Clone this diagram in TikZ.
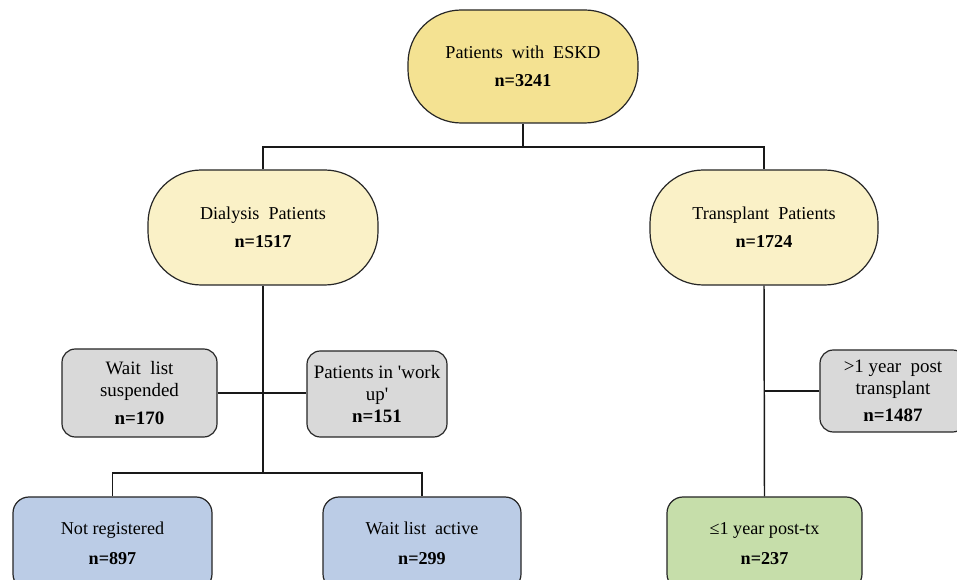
\documentclass[tikz,border=0pt]{standalone}
\usepackage{fontspec}
\setmainfont{Liberation Serif}
\definecolor{topY}{RGB}{244,226,146}
\definecolor{midY}{RGB}{250,241,199}
\definecolor{greyB}{RGB}{217,217,217}
\definecolor{blueB}{RGB}{187,204,230}
\definecolor{greenB}{RGB}{198,222,170}
\tikzset{
  box/.style={draw=black!85, line width=0.9pt, align=center, inner sep=0pt},
  stadium/.style={box, rounded corners=40pt, font=\fontsize{13.6}{21}\selectfont},
  smallbox/.style={box, rounded corners=10pt, font=\fontsize{14.2}{16.5}\selectfont},
  lowbox/.style={box, rounded corners=12pt, font=\fontsize{13.6}{22.5}\selectfont,
    minimum height=69.75pt},
  link/.style={draw=black!90, line width=1.1pt},
}
\begin{document}
\begin{tikzpicture}[x=0.75pt,y=-0.75pt]
\clip (0,0) rectangle (957,580);
\fill[white] (0,0) rectangle (957,580);
% top row
\node[stadium, fill=topY, minimum width=172.5pt, minimum height=84.75pt] (top) at (523,66.5)
  {Patients\ \ with\ \ ESKD\\\textbf{n=3241}};
\node[stadium, fill=midY, minimum width=172.5pt, minimum height=86.25pt] (dial) at (263,227.5)
  {Dialysis\ \ Patients\\\textbf{n=1517}};
\node[stadium, fill=midY, minimum width=171pt, minimum height=86.25pt] (trans) at (764,227.5)
  {Transplant\ \ Patients\\\textbf{n=1724}};
% grey boxes
\node[smallbox, fill=greyB, minimum width=116.25pt, minimum height=66pt] (wls) at (139.5,393)
  {Wait\ \ list\\suspended\\[5pt]\textbf{n=170}};
\node[smallbox, fill=greyB, minimum width=105pt, minimum height=64.5pt] (wup) at (377,394)
  {Patients\ in\ \textquotesingle work\\up\textquotesingle\\\textbf{n=151}};
\node[smallbox, fill=greyB, minimum width=109.5pt, minimum height=61.5pt] (gt1) at (893,391)
  {>1 year\ \ post\\transplant\\[4pt]\textbf{n=1487}};
% bottom boxes
\node[lowbox, fill=blueB, minimum width=149.25pt] (notreg) at (112.5,543.5)
  {Not registered\\\textbf{n=897}};
\node[lowbox, fill=blueB, minimum width=148.5pt] (wla) at (422,543.5)
  {Wait\ list\ \ active\\\textbf{n=299}};
\node[lowbox, fill=greenB, minimum width=146.25pt] (le1) at (764.5,543.5)
  {≤1 year post-tx\\\textbf{n=237}};
% junctions
\coordinate (j1) at (523,147);
\coordinate (j2) at (263,473);
% connectors
\draw[link] (top.south) -- (j1);
\draw[link] (dial.north) |- (j1) -| (trans.north);
\draw[link] (dial.south) -- (j2);
\draw[link] (notreg.north) |- (j2) -| (wla.north);
\draw[link] (wls.east) -- (wls.east -| wup.west);
\draw[link] (trans.south) -- (le1.north);
\draw[link] (gt1.west) -- (gt1.west -| trans.south);
\end{tikzpicture}
\end{document}
